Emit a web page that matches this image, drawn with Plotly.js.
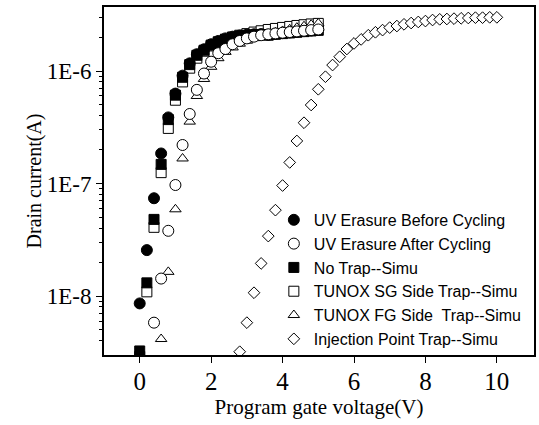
<!DOCTYPE html>
<html>
<head>
<meta charset="utf-8">
<script src="https://cdn.plot.ly/plotly-3.0.1.min.js"></script>
<style>html,body{margin:0;padding:0;background:#fff;}#chart{width:539px;height:425px;}</style>
</head>
<body>
<div id="chart"></div>
<script>
// Program gate voltage (V) and drain current (A)
const vBefore = [0,0.2,0.4,0.6,0.8,1.0,1.2,1.4,1.6,1.8,2.0,2.2,2.4,2.6,2.8,3.0,3.2,3.4,3.6,3.8,4.0,4.2,4.4,4.6,4.8,5.0];
const iBefore = [8.6e-9,2.56e-8,7.4e-8,1.85e-7,3.87e-7,6.3e-7,9.1e-7,1.17e-6,1.41e-6,1.56e-6,1.73e-6,1.85e-6,1.95e-6,2.02e-6,2.07e-6,2.1e-6,2.12e-6,2.13e-6,2.1e-6,2.14e-6,2.17e-6,2.2e-6,2.23e-6,2.26e-6,2.29e-6,2.32e-6];

const vAfter = [0.4,0.6,0.8,1.0,1.2,1.4,1.6,1.8,2.0,2.2,2.4,2.6,2.8,3.0,3.2,3.4,3.6,3.8,4.0,4.2,4.4,4.6,4.8,5.0];
const iAfter = [5.8e-9,1.43e-8,3.8e-8,9.7e-8,2.2e-7,4.15e-7,6.8e-7,9.5e-7,1.21e-6,1.44e-6,1.57e-6,1.73e-6,1.85e-6,1.95e-6,2.02e-6,2.08e-6,2.12e-6,2.16e-6,2.19e-6,2.22e-6,2.25e-6,2.28e-6,2.31e-6,2.34e-6];

const vNoTrap = [0,0.2,0.4,0.6,0.8,1.0,1.2,1.4,1.6,1.8,2.0,2.2,2.4,2.6,2.8,3.0,3.2,3.4,3.6,3.8,4.0,4.2,4.4,4.6,4.8,5.0];
const iNoTrap = [3.25e-9,1.31e-8,4.8e-8,1.48e-7,3.7e-7,6.1e-7,8.8e-7,1.14e-6,1.38e-6,1.53e-6,1.7e-6,1.82e-6,1.92e-6,2.0e-6,2.05e-6,2.08e-6,2.1e-6,2.11e-6,2.08e-6,2.12e-6,2.15e-6,2.18e-6,2.21e-6,2.24e-6,2.27e-6,2.3e-6];

const vSG = [0,0.2,0.4,0.6,0.8,1.0,1.2,1.4,1.6,1.8,2.0,2.2,2.4,2.6,2.8,3.0,3.2,3.4,3.6,3.8,4.0,4.2,4.4,4.6,4.8,5.0];
const iSG = [2.9e-9,1.09e-8,4.08e-8,1.25e-7,3.09e-7,5.5e-7,8.0e-7,1.06e-6,1.3e-6,1.5e-6,1.67e-6,1.8e-6,1.9e-6,2.0e-6,2.08e-6,2.15e-6,2.22e-6,2.28e-6,2.34e-6,2.39e-6,2.44e-6,2.49e-6,2.54e-6,2.58e-6,2.62e-6,2.65e-6];

const vFG = [0.6,0.8,1.0,1.2,1.4,1.6,1.8,2.0,2.2,2.4,2.6,2.8,3.0,3.2,3.4,3.6,3.8,4.0,4.2,4.4,4.6,4.8,5.0];
const iFG = [4.15e-9,1.64e-8,5.9e-8,1.67e-7,3.55e-7,6.0e-7,8.5e-7,1.09e-6,1.3e-6,1.48e-6,1.62e-6,1.75e-6,1.86e-6,1.96e-6,2.05e-6,2.13e-6,2.2e-6,2.27e-6,2.35e-6,2.43e-6,2.5e-6,2.58e-6,2.65e-6];

const vInj = [2.8,3.0,3.2,3.4,3.6,3.8,4.0,4.2,4.4,4.6,4.8,5.0,5.2,5.4,5.6,5.8,6.0,6.2,6.4,6.6,6.8,7.0,7.2,7.4,7.6,7.8,8.0,8.2,8.4,8.6,8.8,9.0,9.2,9.4,9.6,9.8,10.0];
const iInj = [3.2e-9,5.8e-9,1.07e-8,1.95e-8,3.41e-8,5.8e-8,9.6e-8,1.54e-7,2.39e-7,3.47e-7,4.99e-7,6.88e-7,8.9e-7,1.13e-6,1.34e-6,1.57e-6,1.76e-6,1.91e-6,2.08e-6,2.21e-6,2.31e-6,2.43e-6,2.51e-6,2.6e-6,2.67e-6,2.73e-6,2.78e-6,2.84e-6,2.88e-6,2.9e-6,2.92e-6,2.94e-6,2.96e-6,2.98e-6,2.98e-6,3.0e-6,3.0e-6];

const seriesNames = ["UV Erasure Before Cycling","UV Erasure After Cycling","No Trap--Simu","TUNOX SG Side Trap--Simu","TUNOX FG Side  Trap--Simu","Injection Point Trap--Simu"];
const yTickVals = [1e-8,1e-7,1e-6];
const yTickText = ["1E-8","1E-7","1E-6"];
const yMinorVals = [4e-9,5e-9,6e-9,7e-9,8e-9,9e-9,2e-8,3e-8,4e-8,5e-8,6e-8,7e-8,8e-8,9e-8,2e-7,3e-7,4e-7,5e-7,6e-7,7e-7,8e-7,9e-7,2e-6,3e-6];
const xTickVals = [0,2,4,6,8,10];

function mk(x, y, name, symbol, fill, size, rank) {
  return {
    x: x, y: y, name: name, type: 'scatter', mode: 'markers', legendrank: rank,
    marker: {symbol: symbol, size: size, color: fill, line: {color: '#000', width: 1}}
  };
}

const data = [
  mk(vSG, iSG, seriesNames[3], 'square', '#fff', 10, 4),
  mk(vNoTrap, iNoTrap, seriesNames[2], 'square', '#000', 10, 3),
  mk(vBefore, iBefore, seriesNames[0], 'circle', '#000', 11, 1),
  mk(vFG, iFG, seriesNames[4], 'triangle-up', '#fff', 10, 5),
  mk(vAfter, iAfter, seriesNames[1], 'circle', '#fff', 11, 2),
  mk(vInj, iInj, seriesNames[5], 'diamond', '#fff', 9, 6)
];

const serif = '"Liberation Serif", "Times New Roman", serif';
const layout = {
  width: 539, height: 425,
  margin: {l: 104, r: 5, t: 7, b: 70},
  paper_bgcolor: '#fff', plot_bgcolor: '#fff',
  showlegend: true,
  legend: {x: 0.395, y: 0.437, xanchor: 'left', yanchor: 'top', bgcolor: 'rgba(0,0,0,0)',
           font: {family: '"Liberation Sans", Arial, sans-serif', size: 16, color: '#000'},
           tracegroupgap: 0},
  xaxis: {
    range: [-1, 11.04], showgrid: false, zeroline: false,
    showline: true, linecolor: '#000', linewidth: 2, mirror: true,
    tickmode: 'array', tickvals: xTickVals, ticks: 'outside', ticklen: 6, tickwidth: 1, tickcolor: '#000',
    ticklabelstandoff: -3,
    tickfont: {family: serif, size: 25, color: '#000'},
    title: {text: 'Program gate voltage(V)', font: {family: serif, size: 21, color: '#000'}, standoff: 0}
  },
  xaxis2: {
    overlaying: 'x', matches: 'x', range: [-1, 11.04], side: 'bottom',
    showgrid: false, zeroline: false, showline: false, showticklabels: false,
    tickmode: 'linear', tick0: 0, dtick: 1, ticks: 'inside', ticklen: 5, tickwidth: 1, tickcolor: '#000'
  },
  yaxis: {
    type: 'log', range: [-8.524, -5.431], showgrid: false, zeroline: false,
    showline: true, linecolor: '#000', linewidth: 2, mirror: true,
    tickmode: 'array', tickvals: yTickVals, ticktext: yTickText,
    ticks: 'outside', ticklen: 6, tickwidth: 1, tickcolor: '#000',
    minor: {tickmode: 'array', tickvals: yMinorVals, ticks: 'outside', ticklen: 3, tickwidth: 1, tickcolor: '#000', showgrid: false},
    tickfont: {family: serif, size: 23, color: '#000'},
    title: {text: 'Drain current(A)', font: {family: serif, size: 20, color: '#000'}, standoff: 0}
  }
};

Plotly.newPlot('chart', data, layout, {displayModeBar: false, staticPlot: true});
</script>
</body>
</html>
